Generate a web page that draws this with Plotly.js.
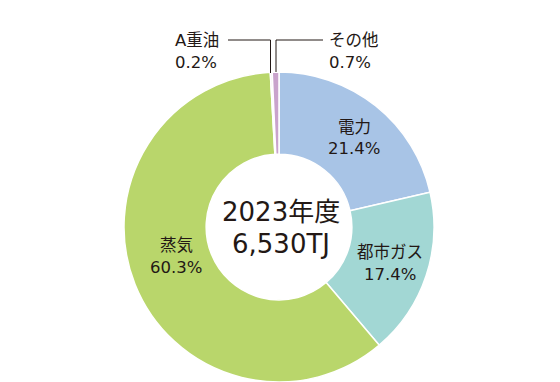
<!DOCTYPE html>
<html><head><meta charset="utf-8">
<script src="https://cdn.plot.ly/plotly-3.0.1.min.js"></script>
<style>html,body{margin:0;padding:0;background:#fff}#c{width:560px;height:382px}</style>
</head><body><div id="c"></div>
<script>
const categories = ["電力","都市ガス","蒸気","A重油","その他"];
const shares = [21.4, 17.4, 60.3, 0.2, 0.7];
const colors = ["#a8c4e6","#a2d7d4","#b9d66b","#f4e6ee","#c9a3cc"];
const centerYear = "2023年度";
const centerTotal = "6,530TJ";

const W = 560, H = 382;
const px = x => x / W, py = y => 1 - y / H;
const font = "DejaVu Sans, Noto Sans CJK JP, sans-serif";
const ink = "#231815";

const trace = {
  type: "pie", values: shares, labels: categories, sort: false, direction: "clockwise",
  rotation: 0, hole: 0.47, textinfo: "none", hoverinfo: "label+value",
  marker: {colors: colors, line: {color: "#ffffff", width: 1.5}},
  domain: {x: [px(124), px(434)], y: [0, 310 / H]}, showlegend: false
};

// label placement (pixel positions) per category
const labelPos = [
  {x: 354, y: 127, anchor: "center"},
  {x: 390, y: 252, anchor: "center"},
  {x: 176, y: 245, anchor: "center"},
  {x: 173, y: 40, anchor: "left"},
  {x: 327, y: 40, anchor: "left"}
];
const annotations = [];
categories.forEach((c, i) => {
  const p = labelPos[i];
  [c, shares[i].toFixed(1) + "%"].forEach((t, k) => annotations.push({
    x: px(p.x), y: py(p.y + k * 22), xref: "paper", yref: "paper",
    xanchor: p.anchor, yanchor: "middle", text: t, showarrow: false,
    font: {family: font, size: 16.5, color: ink}
  }));
});
[centerYear, centerTotal].forEach((t, k) => annotations.push({
  x: px(281), y: py(212 + k * 32), xref: "paper", yref: "paper", xanchor: "center", yanchor: "middle",
  text: t, showarrow: false, font: {family: font, size: 26, color: ink}
}));

const ln = {color: ink, width: 1};
const shapes = [
  {type: "line", xref: "paper", yref: "paper", x0: px(228), y0: py(40), x1: px(270.5), y1: py(40), line: ln},
  {type: "line", xref: "paper", yref: "paper", x0: px(270.5), y0: py(40), x1: px(270.5), y1: py(73), line: ln},
  {type: "line", xref: "paper", yref: "paper", x0: px(276), y0: py(40), x1: px(323), y1: py(40), line: ln},
  {type: "line", xref: "paper", yref: "paper", x0: px(276), y0: py(40), x1: px(276), y1: py(72), line: ln}
];

Plotly.newPlot("c", [trace], {
  width: W, height: H, margin: {l: 0, r: 0, t: 0, b: 0},
  paper_bgcolor: "#ffffff", plot_bgcolor: "#ffffff",
  annotations: annotations, shapes: shapes
}, {displayModeBar: false, staticPlot: true});
</script></body></html>
